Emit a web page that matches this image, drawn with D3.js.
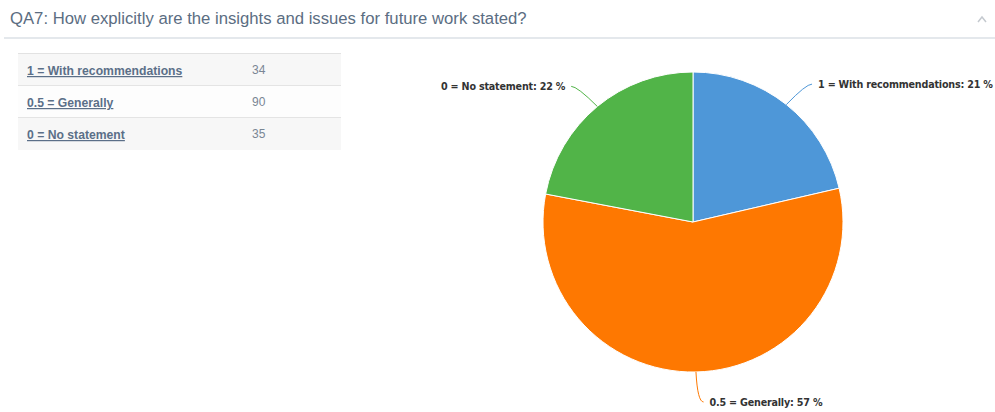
<!DOCTYPE html>
<html>
<head>
<meta charset="utf-8">
<script src="https://cdn.jsdelivr.net/npm/d3@7"></script>
<style>
  body { margin: 0; background: #fff; font-family: "Liberation Sans", Arial, sans-serif; }
</style>
</head>
<body>
<script>
var w = 995;
var h = 412;

var categories = ["1 = With recommendations", "0.5 = Generally", "0 = No statement"];
var counts = [34, 90, 35];
var colors = ["#4e97d8", "#fe7801", "#51b448"];
var title = "QA7: How explicitly are the insights and issues for future work stated?";

var svg = d3.select("body")
            .append("svg")
            .attr("width", w)
            .attr("height", h);

// header
svg.append("text")
    .attr("x", 10)
    .attr("y", 24)
    .text(title)
    .style("font-size", "16.7px")
    .style("fill", "#5b6d82");

svg.append("path")
    .attr("d", "M978,22 L982,17 L986,22")
    .attr("fill", "none")
    .attr("stroke", "#c4c9cf")
    .attr("stroke-width", 1.5);

svg.append("rect")
    .attr("x", 4).attr("y", 37).attr("width", w - 4).attr("height", 2)
    .attr("fill", "#e4e8ec");

// table on the left
var rowH = 32;
var rowY = d3.scaleBand().domain(d3.range(categories.length)).range([54, 54 + rowH * categories.length]);

svg.append("line")
    .attr("x1", 18).attr("x2", 341).attr("y1", 53.5).attr("y2", 53.5)
    .attr("stroke", "#e2e2e2");

var rows = svg.selectAll("g.row")
    .data(categories)
    .enter()
    .append("g")
    .attr("class", "row")
    .attr("transform", function(d, i){ return "translate(18," + rowY(i) + ")"; });

rows.append("rect")
    .attr("width", 323)
    .attr("height", rowH)
    .attr("fill", function(d, i){ return i % 2 == 0 ? "#f7f7f7" : "#fdfdfd"; });

rows.append("line")
    .attr("x1", 0).attr("x2", 323).attr("y1", rowH - 0.5).attr("y2", rowH - 0.5)
    .attr("stroke", function(d, i){ return i < categories.length - 1 ? "#e4e4e4" : "none"; });

rows.append("text")
    .attr("x", 9)
    .attr("y", 21)
    .text(function(d){ return d; })
    .style("font-size", "12.2px")
    .style("font-weight", "bold")
    .style("fill", "#5b6f88")
    .style("text-decoration", "underline");

rows.append("text")
    .attr("x", 234)
    .attr("y", 20)
    .text(function(d, i){ return counts[i]; })
    .style("font-size", "12px")
    .style("fill", "#7a8694");

// pie
var cx = 693, cy = 222, r = 150;
var total = d3.sum(counts);

var pie = d3.pie().sort(null).value(function(d){ return d; });
var arc = d3.arc().innerRadius(0).outerRadius(r);
var arcs = pie(counts);

var g = svg.append("g").attr("transform", "translate(" + cx + "," + cy + ")");

g.selectAll("path.slice")
    .data(arcs)
    .enter()
    .append("path")
    .attr("class", "slice")
    .attr("d", arc)
    .attr("fill", function(d, i){ return colors[i]; })
    .attr("stroke", "#fff")
    .attr("stroke-width", 1);

// labels with curved connectors
function labelPos(d) {
    var a = (d.startAngle + d.endAngle) / 2;
    var sx = Math.sin(a) * r, sy = -Math.cos(a) * r;
    var right = Math.sin(a) >= -0.01;
    var ex = Math.sin(a) * (r + 30) + (right ? 3 : -3);
    var ey = -Math.cos(a) * (r + 30) + (Math.cos(a) > 0 ? 3 : 0);
    var tx = ex + (right ? 6 : -6);
    return { a: a, sx: sx, sy: sy, ex: ex, ey: ey, tx: tx, right: right };
}

g.selectAll("path.conn")
    .data(arcs)
    .enter()
    .append("path")
    .attr("class", "conn")
    .attr("d", function(d){
        var p = labelPos(d);
        return "M" + p.sx + "," + p.sy + " Q" + (p.ex - (p.right ? 2 : -2)) + "," + p.ey + " " + (p.ex + (p.right ? 4 : -4)) + "," + p.ey;
    })
    .attr("fill", "none")
    .attr("stroke", function(d, i){ return colors[i]; })
    .attr("stroke-width", 1);

g.selectAll("text.lbl")
    .data(arcs)
    .enter()
    .append("text")
    .attr("class", "lbl")
    .attr("x", function(d){ var p = labelPos(d); return p.tx + (p.right ? 4 : -4); })
    .attr("y", function(d){ return labelPos(d).ey + 4; })
    .attr("text-anchor", function(d){ return labelPos(d).right ? "start" : "end"; })
    .text(function(d, i){ return categories[i] + ": " + Math.round(d.value / total * 100) + " %"; })
    .style("font-family", "'DejaVu Sans', sans-serif")
    .style("font-size", "9.6px")
    .style("letter-spacing", "-0.2px")
    .style("font-weight", "bold")
    .style("fill", "#333");
</script>
</body>
</html>
